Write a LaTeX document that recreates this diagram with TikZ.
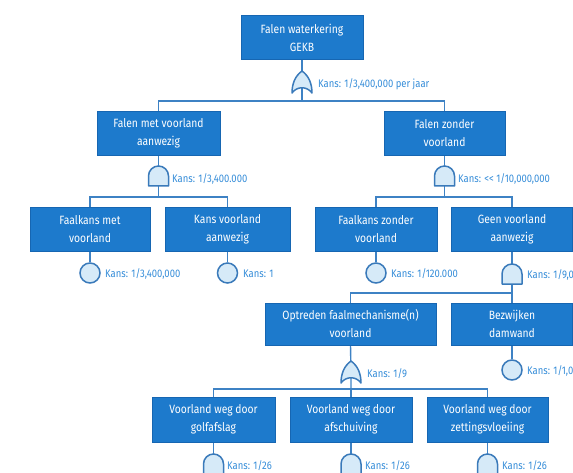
\documentclass[tikz,border=0pt]{standalone}
\usepackage{fontspec}
\setmainfont{Fira Sans}[FakeStretch=0.86]
\usetikzlibrary{calc}
\pgfdeclarelayer{bg}
\pgfsetlayers{bg,main}
\definecolor{boxblue}{RGB}{29,122,204}
\definecolor{boxedge}{RGB}{22,102,178}
\definecolor{linec}{RGB}{62,130,196}
\definecolor{gatefill}{RGB}{214,234,248}
\definecolor{gateline}{RGB}{58,122,186}
\definecolor{labc}{RGB}{52,140,216}
\tikzset{
  x=1pt, y=-1pt,
  evbox/.style={rectangle, fill=boxblue, draw=boxedge, line width=0.6pt, text=white,
    align=center, inner sep=0pt, minimum height=44pt,
    font=\fontsize{12}{18}\selectfont},
  conn/.style={draw=linec, line width=1.4pt},
  gshape/.style={draw=gateline, fill=gatefill, line width=1.5pt, line join=round},
  gbox/.style={rectangle, inner sep=0pt, minimum width=20pt},
  basic/.style={circle, draw=gateline, fill=gatefill, line width=1.5pt, minimum size=20pt, inner sep=0pt},
  lab/.style={anchor=west, text=labc, inner sep=0pt, font=\fontsize{11}{13}\selectfont},
  andgate/.pic={
    \path[gshape] (-10,10) -- (-10,0) .. controls (-10,-5.5) and (-5.5,-10) .. (0,-10)
      .. controls (5.5,-10) and (10,-5.5) .. (10,0) -- (10,10) -- cycle;
    \node[gbox, minimum height=20pt] (-g) at (0,0) {};
  },
  orgate/.pic={
    \path[gshape] (-10,11) .. controls (-10,2) and (-7,-6) .. (0,-11)
      .. controls (7,-6) and (10,2) .. (10,11)
      .. controls (5,4) and (-5,4) .. cycle;
    \node[gbox, minimum height=22pt] (-g) at (0,0) {};
  }
}
\begin{document}
\begin{tikzpicture}
\useasboundingbox (0,0) rectangle (573,473);
\clip (0,0) rectangle (573,473);

% boxes
\node[evbox, minimum width=122pt] (b0) at (302,37.5) {Falen waterkering\\GEKB};
\node[evbox, minimum width=123pt] (b1) at (158.5,133) {Falen met voorland\\aanwezig};
\node[evbox, minimum width=121pt] (b2) at (444.5,133) {Falen zonder\\voorland};
\node[evbox, minimum width=120pt] (c1) at (90,229) {Faalkans met\\voorland};
\node[evbox, minimum width=125pt] (c2) at (227.5,229) {Kans voorland\\aanwezig};
\node[evbox, minimum width=122pt] (c3) at (376,229) {Faalkans zonder\\voorland};
\node[evbox, minimum width=121pt] (c4) at (512,229) {Geen voorland\\aanwezig};
\node[evbox, minimum width=171pt, minimum height=42pt] (d1) at (350.5,324) {Optreden faalmechanisme(n)\\voorland};
\node[evbox, minimum width=121pt, minimum height=42pt] (d2) at (512,324) {Bezwijken\\damwand};
\node[evbox, minimum width=123pt, minimum height=45pt] (f1) at (213.5,419.5) {Voorland weg door\\golfafslag};
\node[evbox, minimum width=122pt, minimum height=45pt] (f2) at (351,419.5) {Voorland weg door\\afschuiving};
\node[evbox, minimum width=121pt, minimum height=45pt] (f3) at (487.5,419.5) {Voorland weg door\\zettingsvloeiing};

% gates
\pic (g0) at (302,82) {orgate};
\pic (g1) at (158.5,176) {andgate};
\pic (g2) at (444.5,176) {andgate};
\pic (g3) at (512,274) {andgate};
\pic (g4) at (351,372) {orgate};
\pic (g5) at (213.5,464) {andgate};
\pic (g6) at (351,464) {andgate};
\pic (g7) at (487.5,464) {andgate};

% basic events
\node[basic] (e1) at (90,273) {};
\node[basic] (e2) at (227.5,273) {};
\node[basic] (e3) at (376,273) {};
\node[basic] (e4) at (512,370) {};

% labels
\node[lab] (l0) at (318,84) {Kans: 1/3,400,000 per jaar};
\node[lab] (l1) at (172,179) {Kans: 1/3,400.000};
\node[lab] (l2) at (458,179) {Kans: {<}{<} 1/10,000,000};
\node[lab] (l3) at (105,274) {Kans: 1/3,400,000};
\node[lab] (l4) at (243,274) {Kans: 1};
\node[lab] (l5) at (391,274) {Kans: 1/120.000};
\node[lab] (l6) at (527,275) {Kans: 1/9,0};
\node[lab] (l7) at (367,374) {Kans: 1/9};
\node[lab] (l8) at (527,371) {Kans: 1/1,0};
\node[lab] (l9) at (227,466) {Kans: 1/26};
\node[lab] (l10) at (365,466) {Kans: 1/26};
\node[lab] (l11) at (502,466) {Kans: 1/26};

% bus points
\coordinate (k0) at (302,101);
\coordinate (k1) at (158.5,197);
\coordinate (k2) at (444.5,197);
\coordinate (k3) at (512,293);
\coordinate (k4) at (351,389);

\begin{pgfonlayer}{bg}
\draw[conn] (b0.south) -- (g0-g.center) -- (k0);
\draw[conn] (b1.north) |- (k0) -| (b2.north);
\draw[conn] (b1.south) -- (g1-g.south) -- (k1);
\draw[conn] (c1.north) |- (k1) -| (c2.north);
\draw[conn] (b2.south) -- (g2-g.south) -- (k2);
\draw[conn] (c3.north) |- (k2) -| (c4.north);
\draw[conn] (c1.south) -- (e1);
\draw[conn] (c2.south) -- (e2);
\draw[conn] (c3.south) -- (e3);
\draw[conn] (c4.south) -- (g3-g.south) -- (k3);
\draw[conn] (d1.north) |- (k3) -| (d2.north);
\draw[conn] (d1.south) -- (g4-g.center) -- (k4);
\draw[conn] (d2.south) -- (e4);
\draw[conn] (f1.north) |- (k4) -| (f3.north);
\draw[conn] (k4) -- (f2.north);
\draw[conn] (f1.south) -- (g5-g.center);
\draw[conn] (f2.south) -- (g6-g.center);
\draw[conn] (f3.south) -- (g7-g.center);
\end{pgfonlayer}
\end{tikzpicture}
\end{document}
